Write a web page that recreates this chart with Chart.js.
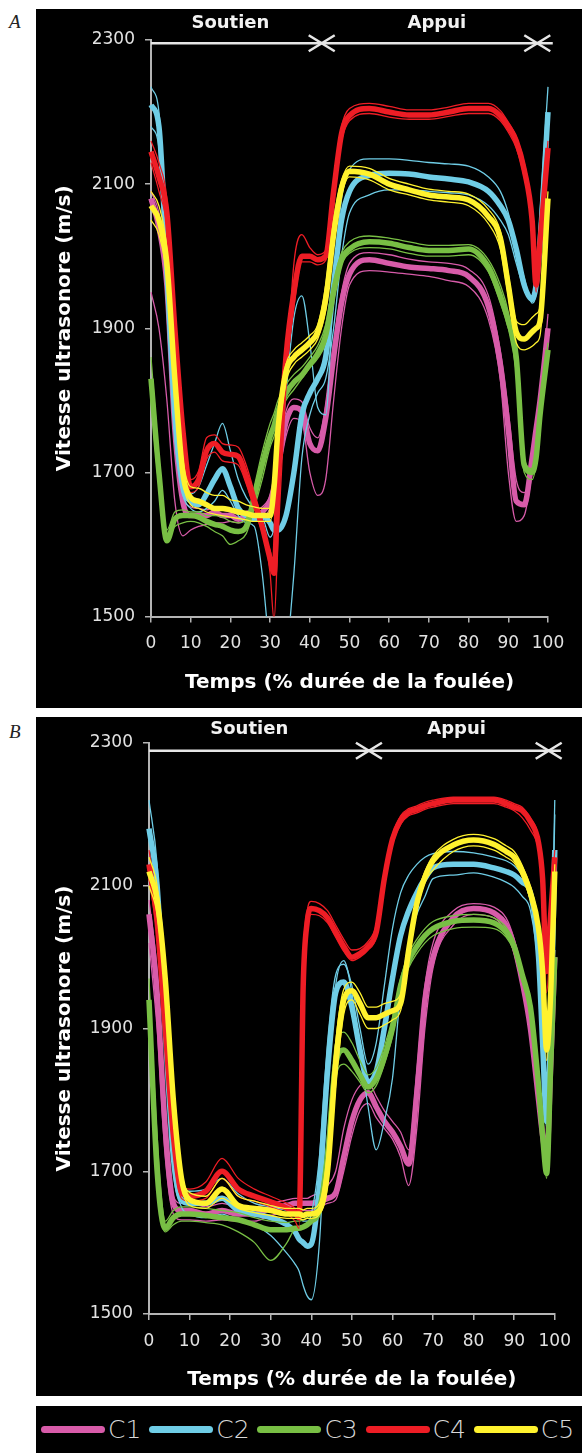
<!DOCTYPE html>
<html>
<head>
<meta charset="utf-8">
<script src="https://cdn.jsdelivr.net/npm/chart.js@4.4.1/dist/chart.umd.min.js"></script>
<style>
  body { margin: 0; background: #fff; }
  #page { position: relative; width: 582px; height: 1453px; overflow: hidden; }
  .panel { position: absolute; left: 36px; width: 546px; background: #000; }
  .panel canvas { display: block; }
  .tag { position: absolute; left: 9px; font: italic 19px/19px "Liberation Serif", serif; color: #222; }
  #legend { position: absolute; left: 36px; top: 1406px; width: 546px; height: 47px; background: #000;
            display: flex; align-items: center; padding-left: 5px; box-sizing: border-box; }
  .item { display: flex; align-items: center; width: 109.5px; }
  .swatch { width: 64px; height: 7px; border-radius: 4px; }
  .lbl { margin-left: 3px; font: 200 25px "DejaVu Sans", sans-serif; color: #d8d8d8; }
</style>
</head>
<body>
<div id="page">
  <div class="tag" style="top:12px">A</div>
  <div class="panel" style="top:9px;height:699px"><canvas id="chartA" width="546" height="699"></canvas></div>
  <div class="tag" style="top:722px">B</div>
  <div class="panel" style="top:717px;height:679px"><canvas id="chartB" width="546" height="679"></canvas></div>
  <div id="legend"></div>
</div>
<script>
// ---------- Données ----------
const NAMES  = ["C1", "C2", "C3", "C4", "C5"];
const COLORS = ["#d75ba9", "#6fcde6", "#78bf44", "#ee1d25", "#fff22e"];
const X_TICKS = [0, 10, 20, 30, 40, 50, 60, 70, 80, 90, 100];
const Y_TICKS = [1500, 1700, 1900, 2100, 2300];
const PHASE_NAMES = ["Soutien", "Appui"];
const X_TITLE = "Temps (% durée de la foulée)";
const Y_TITLE = "Vitesse ultrasonore (m/s)";

// A : limites des phases (% foulée) et position des libellés
const PHASE_MARKS_A = [43, 97.3];
const PHASE_LABEL_T_A = [20, 72];
// B
const PHASE_MARKS_B = [54.2, 98.5];
const PHASE_LABEL_T_B = [24.7, 75.8];

// ---------- Panneau A ----------
const T_A = [0,2,4,6,8,10,12,14,16,18,20,22,24,26,28,30,31,32,34,36,38,40,42,44,46,48,50,55,60,65,70,75,80,85,88,90,92,94,96,97,98,100];

const C1_A    = [2080,2040,1960,1760,1660,1640,1640,1640,1645,1640,1640,1635,1640,1640,1645,1660,1680,1710,1770,1790,1785,1740,1730,1775,1860,1935,1975,1995,1990,1985,1983,1980,1972,1930,1850,1760,1660,1655,1720,1760,1800,1900];
const C1_A_HI = [2090,2060,1980,1780,1672,1652,1650,1648,1652,1648,1645,1642,1646,1648,1652,1668,1692,1725,1785,1802,1798,1762,1748,1792,1880,1950,1990,2005,2002,1996,1992,1990,1982,1945,1868,1785,1690,1672,1700,1740,1790,1920];
const C1_A_LO = [1950,1900,1800,1660,1612,1620,1625,1628,1630,1630,1632,1630,1634,1635,1635,1650,1665,1690,1750,1775,1770,1700,1668,1690,1800,1900,1960,1980,1978,1975,1972,1966,1958,1912,1828,1700,1632,1640,1700,1745,1790,1880];

const C2_A    = [2210,2180,1980,1780,1680,1660,1655,1670,1690,1705,1680,1650,1640,1635,1640,1630,1620,1620,1640,1700,1780,1810,1830,1860,1960,2050,2090,2112,2115,2114,2110,2107,2103,2090,2070,2050,2010,1960,1940,1960,2020,2200];
const C2_A_HI = [2235,2200,2020,1800,1690,1670,1680,1710,1740,1768,1730,1690,1665,1650,1640,1610,1625,1690,1810,1915,1945,1880,1790,1780,1960,2080,2120,2135,2135,2133,2130,2128,2125,2110,2090,2060,2010,1970,1935,1950,2060,2235];
const C2_A_LO = [2180,2150,1950,1750,1670,1650,1645,1650,1660,1675,1660,1640,1630,1625,1560,1450,1420,1400,1440,1560,1720,1780,1810,1830,1900,2000,2060,2085,2092,2092,2090,2088,2085,2070,2050,2030,1990,1955,1945,1970,2050,2180];

const C3_A    = [1830,1700,1605,1635,1640,1640,1638,1632,1628,1625,1620,1618,1625,1665,1710,1750,1765,1785,1810,1825,1835,1850,1865,1890,1950,1995,2010,2020,2018,2012,2008,2008,2010,1985,1945,1910,1860,1710,1700,1720,1780,1870];
const C3_A_HI = [1860,1720,1620,1645,1648,1645,1645,1640,1640,1638,1632,1630,1635,1680,1728,1768,1782,1800,1822,1836,1846,1860,1876,1905,1965,2005,2020,2028,2025,2020,2015,2015,2016,1995,1960,1922,1850,1700,1690,1712,1770,1862];
const C3_A_LO = [1800,1680,1610,1625,1630,1632,1630,1625,1618,1612,1600,1605,1615,1650,1690,1735,1750,1770,1800,1815,1830,1845,1858,1880,1940,1988,2004,2012,2010,2004,2000,2000,2002,1978,1935,1900,1840,1720,1705,1730,1790,1880];

const C4_A    = [2145,2110,2060,1900,1760,1680,1690,1730,1740,1728,1725,1722,1695,1660,1625,1580,1560,1690,1860,1950,2000,2000,1995,2000,2090,2170,2195,2205,2200,2196,2196,2200,2205,2205,2195,2180,2160,2120,2050,1960,2020,2150];
const C4_A_HI = [2160,2130,2080,1920,1772,1690,1702,1748,1752,1740,1738,1735,1710,1672,1632,1560,1495,1610,1820,1990,2030,2012,2002,2008,2100,2180,2205,2212,2208,2203,2203,2207,2212,2212,2202,2186,2166,2130,2062,1972,2032,2160];
const C4_A_LO = [2130,2090,2040,1880,1742,1672,1680,1718,1728,1716,1714,1710,1684,1650,1618,1592,1568,1660,1830,1930,1992,1992,1988,1994,2080,2160,2188,2198,2193,2190,2190,2194,2198,2198,2188,2172,2150,2110,2040,1950,2010,2140];

const C5_A    = [2070,2050,1990,1830,1700,1665,1660,1655,1650,1650,1648,1645,1643,1640,1640,1640,1680,1760,1840,1860,1870,1880,1895,1940,2030,2095,2118,2114,2100,2092,2085,2082,2078,2055,2025,1960,1895,1885,1895,1900,1910,2080];
const C5_A_HI = [2090,2070,2010,1850,1720,1680,1678,1672,1668,1668,1662,1660,1655,1652,1650,1650,1700,1780,1850,1870,1880,1890,1905,1960,2050,2105,2125,2122,2108,2100,2093,2090,2086,2065,2035,1975,1910,1905,1915,1920,1930,2090];
const C5_A_LO = [2050,2030,1970,1810,1690,1655,1650,1645,1642,1640,1638,1636,1634,1632,1632,1632,1665,1740,1825,1850,1860,1870,1885,1925,2015,2085,2110,2106,2092,2085,2078,2075,2070,2045,2010,1945,1880,1870,1875,1880,1890,2060];

// ---------- Panneau B ----------
const T_B = [0,2,4,6,8,10,14,18,22,26,30,34,36,37,38,39,40,42,44,46,48,50,52,54,56,58,60,62,64,66,68,70,75,80,85,88,90,92,94,96,97,98,99,100];

const C1_B    = [2060,1950,1760,1655,1645,1645,1640,1645,1640,1640,1648,1652,1655,1655,1655,1655,1655,1658,1662,1670,1720,1770,1800,1810,1790,1770,1755,1735,1710,1810,1940,2000,2055,2068,2062,2045,2015,1965,1900,1800,1750,1720,1850,2000];
const C1_B_HI = [2080,1980,1790,1665,1655,1655,1650,1655,1650,1650,1655,1660,1662,1662,1662,1662,1665,1670,1680,1700,1760,1800,1820,1825,1805,1785,1770,1755,1730,1840,1960,2020,2065,2075,2070,2055,2025,1975,1910,1810,1760,1730,1860,2010];
const C1_B_LO = [2020,1900,1720,1640,1632,1632,1630,1632,1630,1630,1638,1642,1645,1645,1645,1645,1645,1650,1655,1660,1700,1750,1785,1795,1775,1760,1745,1720,1680,1760,1900,1985,2045,2060,2055,2035,2005,1955,1890,1790,1740,1710,1840,1990];

const C2_B    = [2180,2100,1900,1720,1660,1655,1655,1662,1645,1640,1635,1625,1615,1605,1600,1595,1598,1680,1840,1950,1965,1930,1870,1825,1840,1900,1970,2030,2065,2090,2110,2125,2130,2130,2125,2120,2115,2105,2090,2000,1880,1770,1900,2150];
const C2_B_HI = [2220,2130,1920,1730,1672,1672,1675,1690,1668,1655,1650,1645,1640,1635,1630,1630,1640,1720,1880,1975,1990,1960,1900,1850,1880,1960,2040,2090,2115,2130,2140,2145,2148,2146,2140,2135,2128,2115,2095,1990,1860,1760,1950,2220];
const C2_B_LO = [2150,2070,1880,1700,1650,1640,1635,1640,1630,1625,1610,1585,1570,1560,1540,1525,1520,1600,1820,1960,1995,1950,1870,1790,1730,1770,1830,1950,2020,2060,2085,2110,2115,2118,2112,2105,2098,2085,2065,1980,1870,1780,1920,2200];

const C3_B    = [1940,1700,1620,1635,1640,1640,1638,1635,1632,1625,1618,1618,1620,1620,1622,1625,1630,1645,1720,1850,1870,1855,1835,1818,1830,1860,1900,1960,1995,2015,2030,2040,2050,2052,2048,2035,2015,1975,1930,1820,1750,1697,1850,2000];
const C3_B_HI = [1970,1750,1630,1645,1650,1650,1648,1645,1642,1635,1630,1628,1630,1630,1632,1635,1640,1660,1750,1880,1895,1880,1855,1835,1845,1875,1915,1970,2005,2025,2040,2050,2058,2060,2055,2042,2022,1982,1935,1830,1760,1710,1860,2010];
const C3_B_LO = [1900,1680,1615,1625,1630,1630,1628,1625,1615,1600,1575,1600,1620,1622,1624,1625,1628,1640,1700,1830,1850,1840,1825,1810,1820,1850,1890,1950,1985,2005,2020,2030,2040,2042,2040,2028,2008,1965,1920,1810,1740,1690,1840,1990];

const C4_B    = [2130,2050,1900,1750,1670,1665,1672,1700,1675,1665,1657,1648,1642,1635,1960,2050,2068,2065,2055,2035,2015,2000,2005,2015,2035,2110,2165,2192,2203,2207,2212,2215,2220,2220,2220,2215,2210,2205,2190,2160,2110,1980,2060,2140];
const C4_B_HI = [2150,2070,1920,1770,1680,1675,1685,1718,1690,1675,1665,1655,1648,1640,1990,2065,2078,2075,2065,2045,2025,2010,2012,2022,2045,2120,2172,2198,2208,2212,2217,2220,2224,2224,2224,2220,2215,2210,2195,2168,2120,1990,2070,2150];
const C4_B_LO = [2110,2030,1880,1730,1662,1658,1662,1690,1665,1658,1650,1640,1630,1620,1930,2040,2060,2058,2048,2028,2008,1995,2000,2010,2028,2100,2158,2186,2198,2202,2207,2210,2215,2215,2215,2210,2205,2195,2178,2150,2100,1950,2040,2120];

const C5_B    = [2120,2080,1970,1800,1690,1660,1655,1675,1652,1648,1645,1640,1640,1640,1638,1640,1640,1645,1700,1850,1940,1953,1935,1915,1915,1920,1925,1935,2010,2075,2112,2135,2157,2164,2158,2148,2140,2120,2090,2040,1980,1870,1950,2120];
const C5_B_HI = [2140,2100,1990,1820,1700,1670,1665,1690,1665,1658,1652,1648,1648,1648,1646,1648,1648,1655,1730,1880,1955,1965,1950,1930,1930,1935,1938,1948,2020,2085,2120,2142,2165,2172,2166,2156,2148,2128,2098,2050,1990,1880,1960,2130];
const C5_B_LO = [2100,2060,1950,1780,1680,1652,1648,1662,1648,1642,1638,1634,1634,1634,1632,1634,1634,1640,1680,1820,1920,1940,1920,1900,1900,1905,1912,1925,1995,2065,2105,2122,2148,2156,2150,2140,2132,2112,2080,2030,1970,1855,1940,2110];

// ---------- Réglages ----------
Chart.defaults.font.family = '"DejaVu Sans", sans-serif';
const AXIS_GREY = "#b4b4b4";

// flèches Soutien / Appui au-dessus de la courbe
const phasePlugin = {
  id: "phases",
  afterDraw(chart, args, o) {
    const ctx = chart.ctx;
    const px = t => chart.scales.x.getPixelForValue(t);
    const y = o.lineY;
    ctx.save();
    ctx.strokeStyle = "#e6e6e6";
    ctx.lineWidth = 2.5;
    ctx.beginPath();
    ctx.moveTo(px(0), y);
    ctx.lineTo(px(o.end), y);
    ctx.stroke();
    o.marks.forEach(t => {
      const cx = px(t);
      ctx.beginPath();
      ctx.moveTo(cx - 13, y - 8); ctx.lineTo(cx, y); ctx.lineTo(cx - 13, y + 8);
      ctx.moveTo(cx + 13, y - 8); ctx.lineTo(cx, y); ctx.lineTo(cx + 13, y + 8);
      ctx.stroke();
    });
    ctx.fillStyle = "#f2f2f2";
    ctx.font = 'bold 18px "DejaVu Sans"';
    ctx.textAlign = "center";
    ctx.textBaseline = "middle";
    PHASE_NAMES.forEach((name, i) => ctx.fillText(name, px(o.labelAt[i]), o.labelY));
    ctx.restore();
  }
};

function makeDatasets(xs, groups) {
  const sets = [];
  groups.forEach((g, k) => {
    g.forEach((ys, j) => {
      sets.push({
        label: NAMES[k],
        data: xs.map((x, i) => ({ x: x, y: ys[i] })),
        borderColor: COLORS[k],
        borderWidth: j === 0 ? 5.5 : 1.3,
        pointRadius: 0,
        fill: false,
        cubicInterpolationMode: "monotone",
        order: (5 - k) * 2 + (j === 0 ? 0 : 1),   // C5 dessus
        clip: { left: 4, right: 4, top: 4, bottom: 0 }
      });
    });
  });
  return sets;
}

function makeChart(id, xs, groups, lay) {
  return new Chart(document.getElementById(id), {
    type: "line",
    data: { datasets: makeDatasets(xs, groups) },
    options: {
      responsive: false,
      animation: false,
      events: [],
      layout: { padding: { top: lay.top, right: lay.right, left: 0, bottom: 0 } },
      plugins: {
        legend: { display: false },
        tooltip: { enabled: false },
        phases: { marks: lay.marks, end: lay.end, labelAt: lay.labelAt, lineY: lay.lineY, labelY: lay.labelY }
      },
      scales: {
        x: {
          type: "linear", min: 0, max: 100,
          afterBuildTicks: s => { s.ticks = X_TICKS.map(v => ({ value: v })); },
          afterFit: s => { s.height = lay.xHeight; },
          ticks: { color: "#e2e2e2", font: { size: 17 }, padding: 11, maxRotation: 0, autoSkip: false,
                   callback: v => String(v) },
          grid: { drawOnChartArea: false, color: AXIS_GREY, tickLength: 6, lineWidth: 1.5 },
          border: { color: AXIS_GREY, width: 2 },
          title: { display: true, text: X_TITLE, color: "#ffffff",
                   font: { size: 20, weight: "bold" }, padding: { top: 0, bottom: lay.xTitlePad } }
        },
        y: {
          min: 1500, max: 2300,
          afterBuildTicks: s => { s.ticks = Y_TICKS.map(v => ({ value: v })); },
          afterFit: s => { s.width = lay.yWidth; },
          ticks: { color: "#e2e2e2", font: { size: 17 }, padding: 10, callback: v => String(v) },
          grid: { drawOnChartArea: false, color: AXIS_GREY, tickLength: 6, lineWidth: 1.5 },
          border: { color: AXIS_GREY, width: 2 },
          title: { display: true, text: Y_TITLE, color: "#ffffff",
                   font: { size: 20, weight: "bold" }, padding: { top: 17, bottom: 0 } }
        }
      }
    },
    plugins: [phasePlugin]
  });
}

makeChart("chartA", T_A,
  [[C1_A, C1_A_HI, C1_A_LO], [C2_A, C2_A_HI, C2_A_LO], [C3_A, C3_A_HI, C3_A_LO],
   [C4_A, C4_A_HI, C4_A_LO], [C5_A, C5_A_HI, C5_A_LO]],
  { top: 31, right: 34, yWidth: 115, xHeight: 91.5, xTitlePad: 13,
    marks: PHASE_MARKS_A, end: 101.2, labelAt: PHASE_LABEL_T_A, lineY: 34.3, labelY: 14.5 });

makeChart("chartB", T_B,
  [[C1_B, C1_B_HI, C1_B_LO], [C2_B, C2_B_HI, C2_B_LO], [C3_B, C3_B_HI, C3_B_LO],
   [C4_B, C4_B_HI, C4_B_LO], [C5_B, C5_B_HI, C5_B_LO]],
  { top: 26, right: 26, yWidth: 113, xHeight: 82, xTitlePad: 4,
    marks: PHASE_MARKS_B, end: 101.5, labelAt: PHASE_LABEL_T_B, lineY: 33.7, labelY: 12.5 });

// ---------- Légende ----------
const legendBox = document.getElementById("legend");
NAMES.forEach((name, i) => {
  const item = document.createElement("div");
  item.className = "item";
  item.innerHTML = `<div class="swatch" style="background:${COLORS[i]}"></div><span class="lbl">${name}</span>`;
  legendBox.appendChild(item);
});
</script>
</body>
</html>
